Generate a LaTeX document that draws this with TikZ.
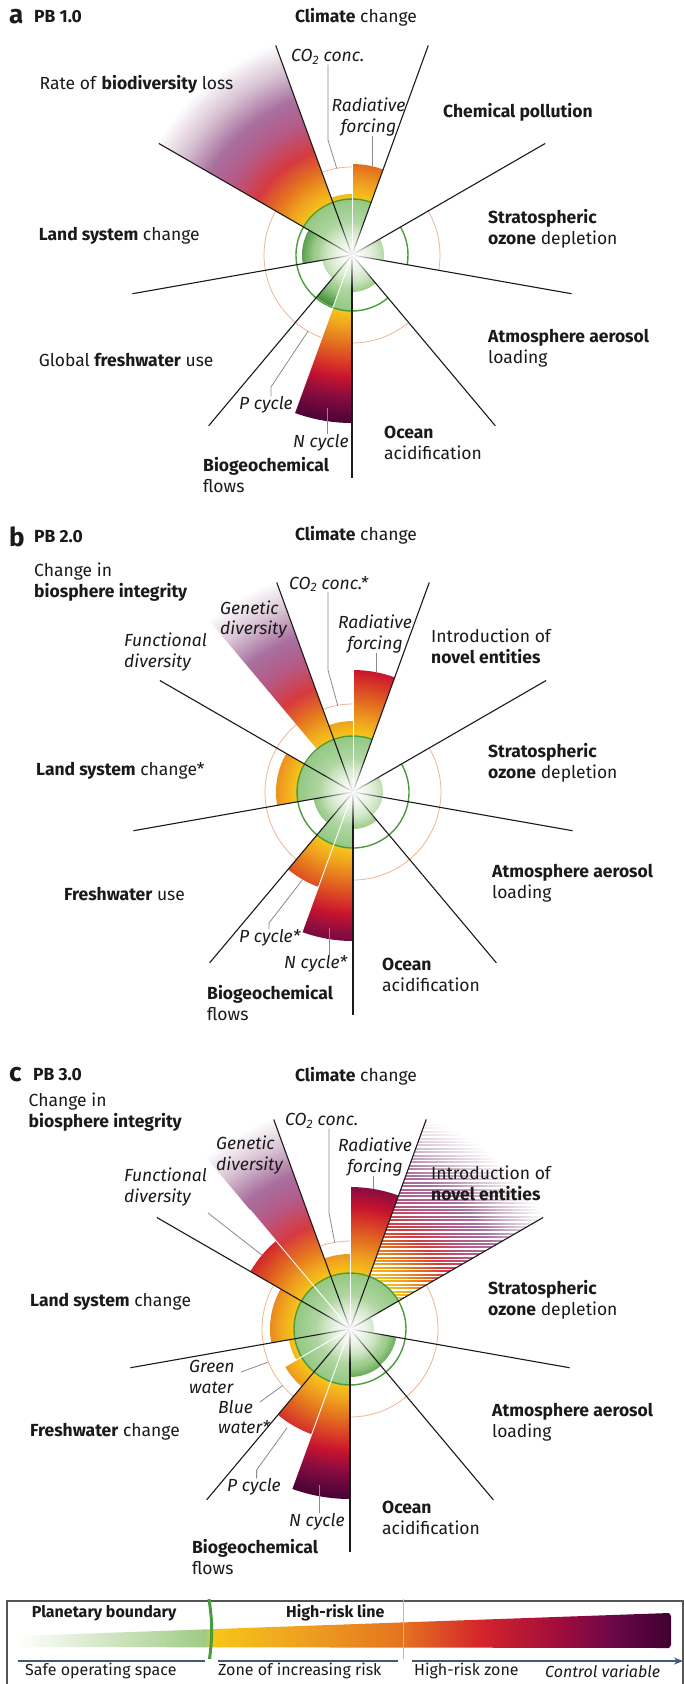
\documentclass[tikz,border=0pt]{standalone}
\usepackage{fontspec}
\setmainfont{Fira Sans}
\usetikzlibrary{fadings,arrows.meta,calc}
\definecolor{ink}{HTML}{1A1A1A}
\definecolor{leadc}{HTML}{8A8A8A}
\definecolor{bndc}{HTML}{4A9A3E}
\definecolor{hrlc}{HTML}{F2B591}
\definecolor{boxc}{HTML}{555555}
\definecolor{axisc}{HTML}{3F5B78}
\definecolor{g0}{HTML}{E2F0DB}
\definecolor{g1}{HTML}{BCDCAE}
\definecolor{g2}{HTML}{93C883}
\definecolor{y1}{HTML}{F6C619}
\definecolor{o0}{HTML}{F0A51F}
\definecolor{o1}{HTML}{E4731F}
\definecolor{r0}{HTML}{D83A28}
\definecolor{r1}{HTML}{C8142E}
\definecolor{m1}{HTML}{8F0C3F}
\definecolor{m2}{HTML}{5C063A}
\definecolor{d1}{HTML}{3F0030}
\definecolor{fr}{HTML}{D63A3F}
\definecolor{fm}{HTML}{B55A88}
\definecolor{fl}{HTML}{A8709F}
\definecolor{fw}{HTML}{D8C2D3}
\definecolor{s0}{HTML}{E4F1DD}
\definecolor{s1}{HTML}{BEDEB0}
\definecolor{s2}{HTML}{9CCC8B}
\definecolor{s3}{HTML}{66A858}
\definecolor{s4}{HTML}{3D8836}
\definecolor{lg1}{HTML}{D5E8C8}
\definecolor{lg2}{HTML}{9FCB85}
\definecolor{lo1}{HTML}{EEA21F}
\definecolor{lo2}{HTML}{E4731F}
\definecolor{lr1}{HTML}{D4252B}
\definecolor{lm1}{HTML}{A00C3C}
\definecolor{lm2}{HTML}{6E0848}
\pgfdeclareradialshading{warm}{\pgfpointorigin}{color(0bp)=(g0); color(2.5bp)=(g1); color(5.55bp)=(g2); color(5.6bp)=(y1); color(7bp)=(o0); color(8.8bp)=(o1); color(10.8bp)=(r0); color(12.2bp)=(r1); color(14bp)=(m1); color(16bp)=(m2); color(17.5bp)=(d1); color(50bp)=(d1)}
\pgfdeclareradialshading{fade}{\pgfpointorigin}{color(0bp)=(g0); color(2.5bp)=(g1); color(5.55bp)=(g2); color(5.6bp)=(y1); color(7bp)=(o0); color(8.8bp)=(o1); color(11bp)=(fr); color(14bp)=(fm); color(16.5bp)=(fl); color(19.5bp)=(fw); color(22.5bp)=(white); color(50bp)=(white)}
\pgfdeclareradialshading{safe}{\pgfpointorigin}{color(0bp)=(s0); color(2.5bp)=(s1); color(3.8bp)=(s2); color(4.8bp)=(s3); color(5.6bp)=(s4); color(50bp)=(s4)}
\pgfdeclarehorizontalshading{legbar}{50bp}{color(0bp)=(white); color(25bp)=(white); color(31.31bp)=(lg1); color(39.35bp)=(lg2); color(39.88bp)=(y1); color(46.61bp)=(lo1); color(54.49bp)=(lo2); color(60.38bp)=(lr1); color(66.5bp)=(lm1); color(70.33bp)=(lm2); color(75bp)=(d1); color(100bp)=(d1)}
\tikzfading[name=glowfade, inner color=transparent!0, outer color=transparent!100]
\newcommand\pbwedge[5]{%
  \begin{scope}
    \clip (#2) -- ++(#3:#5) arc[start angle=#3, end angle=#4, radius=#5] -- cycle;
    \shade[shading=#1] (#2) circle[radius=250];
  \end{scope}}
\newcommand\pbarc[5]{\draw[#1] (#2) ++(#3:#5) arc[start angle=#3, end angle=#4, radius=#5];}
\newcommand\pbstripes[3]{%
  \begin{scope}
    \clip (#1) -- ++(#2:250) arc[start angle=#2, end angle=#3, radius=250] -- cycle;
    \shade[shading=fade] (#1) circle[radius=250];
    \foreach \k in {0,...,75} \draw[white, line width=1.5bp] ($(#1)+(0,1.7+\k*3.4)$) -- ++(260,0);
  \end{scope}}
\begin{document}
\begin{tikzpicture}[x=1bp,y=1bp,
  lab/.style={inner sep=0pt, text=ink, font=\fontsize{17.5bp}{21bp}\selectfont, align=left},
  sublab/.style={inner sep=0pt, text=ink, font=\fontsize{17.5bp}{20.5bp}\selectfont\itshape, align=left},
  letter/.style={inner sep=0pt, text=ink, font=\fontsize{26bp}{26bp}\selectfont\bfseries},
  leg/.style={inner sep=0pt, text=ink, font=\fontsize{16bp}{18bp}\selectfont},
  leader/.style={draw=leadc, line width=0.8bp},
  secline/.style={draw=ink, line width=1.1bp},
  bnd/.style={draw=bndc, line width=1.4bp},
  hrl/.style={draw=hrlc, line width=0.8bp},
  sepw/.style={draw=white, line width=0.9bp},
  axisline/.style={draw=axisc, line width=2.2bp}]
\useasboundingbox (0,0) rectangle (684,-1684);
\fill[white] (0,0) rectangle (684,-1684);

%%%%%%%% Panel a
\coordinate (ca) at (352,-255);
\pbarc{hrl}{ca}{70}{270}{88}\pbarc{hrl}{ca}{-90}{-50}{88}\pbarc{hrl}{ca}{-10}{30}{88}
\pbwedge{fade}{ca}{110}{150}{250}
\pbwedge{warm}{ca}{90}{110}{61}
\pbwedge{warm}{ca}{70}{90}{91}
\pbwedge{safe}{ca}{-10}{30}{32}
\pbwedge{safe}{ca}{-90}{-50}{37}
\pbwedge{warm}{ca}{250}{270}{168}
\pbwedge{safe}{ca}{230}{250}{55}
\pbwedge{safe}{ca}{190}{230}{30}
\pbwedge{safe}{ca}{150}{190}{50}
\pbarc{bnd}{ca}{70}{270}{56}\pbarc{bnd}{ca}{-90}{-50}{56}\pbarc{bnd}{ca}{-10}{30}{56}
\draw[sepw] (ca) -- ++(90:91);
\draw[sepw] (ca) -- ++(250:168);
\foreach \a in {-90,-50,...,230} \draw[secline] (ca) -- ++(\a:223);
\fill[white, path fading=glowfade] (ca) circle[radius=34];

\node[letter, anchor=west] (aL) at (9,-17) {a};
\node[lab, anchor=west] (aT) at (34,-17) {\textbf{PB 1.0}};
\node[lab] (aClim) at (356,-17) {\textbf{Climate} change};
\node[sublab, anchor=west] (aCO) at (291,-57) {CO\textsubscript{2} conc.};
\node[sublab, align=center] (aRF) at (368.5,-117) {Radiative\\forcing};
\node[lab, anchor=west] (aChem) at (443,-112) {\textbf{Chemical pollution}};
\node[lab, anchor=west] (aBio) at (39.5,-84) {Rate of \textbf{biodiversity} loss};
\node[lab, anchor=west] (aLand) at (38.6,-236) {\textbf{Land system} change};
\node[lab, anchor=west] (aOz) at (488,-228.5) {\textbf{Stratospheric}\\\textbf{ozone} depletion};
\node[lab, anchor=west] (aFw) at (38.6,-360) {Global \textbf{freshwater} use};
\node[lab, anchor=west] (aAer) at (488,-348) {\textbf{Atmosphere aerosol}\\loading};
\node[sublab, anchor=west] (aP) at (239,-405) {P cycle};
\node[sublab, anchor=west] (aN) at (293,-443) {N cycle};
\node[lab, anchor=west] (aBgc) at (203,-475) {\textbf{Biogeochemical}\\flows};
\node[lab, anchor=west] (aOc) at (384,-443) {\textbf{Ocean}\\acidification};
\coordinate (aCOk) at (328,-140);
\coordinate (aCOe) at ($(ca)+(100:88)$);
\draw[leader] (aCO.south -| aCOk) -- (aCOk) -- (aCOe);
\coordinate (aRFe) at ($(ca)+(77.3:91)$);
\draw[leader] (aRF.south -| aRFe) -- (aRFe);
\coordinate (aPk) at (271,-387);
\coordinate (aPe) at ($(ca)+(240:88)$);
\draw[leader] (aP.north -| aPk) -- (aPk) -- (aPe);
\coordinate (aNe) at ($(ca)+(261:155)$);
\draw[leader] (aN.north -| aNe) -- (aNe);

%%%%%%%% Panel b
\coordinate (cb) at (353,-792);
\pbarc{hrl}{cb}{70}{390}{88}
\pbwedge{fade}{cb}{110}{130}{250}
\pbwedge{warm}{cb}{130}{150}{55}
\pbwedge{warm}{cb}{90}{110}{71}
\pbwedge{warm}{cb}{70}{90}{122}
\pbwedge{safe}{cb}{-10}{30}{30}
\pbwedge{safe}{cb}{-50}{-10}{30}
\pbwedge{safe}{cb}{-90}{-50}{37}
\pbwedge{warm}{cb}{250}{270}{149}
\pbwedge{warm}{cb}{230}{250}{101}
\pbwedge{safe}{cb}{190}{230}{40}
\pbwedge{warm}{cb}{150}{190}{77}
\pbarc{bnd}{cb}{70}{390}{56}
\draw[sepw] (cb) -- ++(90:122);
\draw[sepw] (cb) -- ++(250:149);
\foreach \a in {-90,-50,...,230} \draw[secline] (cb) -- ++(\a:223);
\fill[white, path fading=glowfade] (cb) circle[radius=34];

\node[letter, anchor=west] (bL) at (9,-537) {b};
\node[lab, anchor=west] (bT) at (34,-537) {\textbf{PB 2.0}};
\node[lab] (bClim) at (356,-535) {\textbf{Climate} change};
\node[lab, anchor=west] (bBio) at (34,-582.5) {Change in\\\textbf{biosphere integrity}};
\node[sublab, anchor=west] (bGen) at (220,-619.5) {Genetic\\diversity};
\node[sublab, anchor=west] (bFun) at (124,-652) {Functional\\diversity};
\node[sublab, anchor=west] (bCO) at (289,-584) {CO\textsubscript{2} conc.*};
\node[sublab, align=center] (bRF) at (375,-634) {Radiative\\forcing};
\node[lab, anchor=west] (bNov) at (431,-646.5) {Introduction of\\\textbf{novel entities}};
\node[lab, anchor=west] (bOz) at (488,-762.5) {\textbf{Stratospheric}\\\textbf{ozone} depletion};
\node[lab, anchor=west] (bLand) at (36,-771) {\textbf{Land system} change*};
\node[lab, anchor=west] (bFw) at (64,-894) {\textbf{Freshwater} use};
\node[lab, anchor=west] (bAer) at (492,-883.5) {\textbf{Atmosphere aerosol}\\loading};
\node[sublab, anchor=west] (bP) at (239,-938) {P cycle*};
\node[sublab, anchor=west] (bN) at (284,-964) {N cycle*};
\node[lab, anchor=west] (bBgc) at (207,-1002.5) {\textbf{Biogeochemical}\\flows};
\node[lab, anchor=west] (bOc) at (382,-974.5) {\textbf{Ocean}\\acidification};
\coordinate (bCOk) at (328,-670);
\coordinate (bCOe) at ($(cb)+(100:88)$);
\draw[leader] (bCO.south -| bCOk) -- (bCOk) -- (bCOe);
\coordinate (bRFe) at ($(cb)+(79:122)$);
\draw[leader] (bRF.south -| bRFe) -- (bRFe);
\coordinate (bPk) at (269,-923);
\coordinate (bPe) at ($(cb)+(240:102)$);
\draw[leader] (bP.north -| bPk) -- (bPk) -- (bPe);
\coordinate (bNe) at ($(cb)+(260:138)$);
\draw[leader] (bN.north -| bNe) -- (bNe);

%%%%%%%% Panel c
\coordinate (cc) at (350,-1329);
\draw[hrl] (cc) circle[radius=88];
\pbwedge{fade}{cc}{110}{130}{250}
\pbwedge{warm}{cc}{130}{150}{115}
\pbwedge{warm}{cc}{90}{110}{75}
\pbwedge{warm}{cc}{70}{90}{142}
\pbstripes{cc}{30}{70}
\pbwedge{warm}{cc}{30}{70}{56}
\pbwedge{safe}{cc}{-10}{30}{24}
\pbwedge{safe}{cc}{-50}{-10}{47}
\pbwedge{safe}{cc}{-90}{-50}{48}
\pbwedge{warm}{cc}{250}{270}{170}
\pbwedge{warm}{cc}{230}{250}{112}
\pbwedge{warm}{cc}{210}{230}{75}
\pbwedge{warm}{cc}{190}{210}{62}
\pbwedge{warm}{cc}{150}{190}{80}
\draw[bnd] (cc) circle[radius=56];
\draw[sepw] (cc) -- ++(90:142);
\draw[sepw] (cc) -- ++(130:155);
\draw[sepw] (cc) -- ++(210:75);
\draw[sepw] (cc) -- ++(250:170);
\foreach \a in {-90,-50,...,230} \draw[secline] (cc) -- ++(\a:223);
\fill[white, path fading=glowfade] (cc) circle[radius=34];

\node[letter, anchor=west] (cL) at (9,-1075) {c};
\node[lab, anchor=west] (cT) at (33,-1075) {\textbf{PB 3.0}};
\node[lab] (cClim) at (356,-1076) {\textbf{Climate} change};
\node[lab, anchor=west] (cBio) at (28.5,-1112.5) {Change in\\\textbf{biosphere integrity}};
\node[sublab, anchor=west] (cCO) at (285,-1121) {CO\textsubscript{2} conc.};
\node[sublab, anchor=west] (cGen) at (216,-1155) {Genetic\\diversity};
\node[sublab, align=center] (cRF) at (375,-1157) {Radiative\\forcing};
\node[sublab, anchor=west] (cFun) at (124,-1187) {Functional\\diversity};
\node[lab, anchor=west] (cNov) at (431,-1183) {Introduction of\\\textbf{novel entities}};
\node[lab, anchor=west] (cOz) at (488,-1300) {\textbf{Stratospheric}\\\textbf{ozone} depletion};
\node[lab, anchor=west] (cLand) at (30,-1302) {\textbf{Land system} change};
\node[sublab, anchor=west] (cGw) at (189,-1377) {Green\\water};
\node[sublab, anchor=west] (cBw) at (218,-1417) {Blue\\water*};
\node[lab, anchor=west] (cFw) at (30,-1432) {\textbf{Freshwater} change};
\node[lab, anchor=west] (cAer) at (492,-1422.5) {\textbf{Atmosphere aerosol}\\loading};
\node[sublab, anchor=west] (cP) at (227,-1487) {P cycle};
\node[sublab, anchor=west] (cN) at (289,-1522) {N cycle};
\node[lab, anchor=west] (cBgc) at (192,-1557) {\textbf{Biogeochemical}\\flows};
\node[lab, anchor=west] (cOc) at (382,-1518) {\textbf{Ocean}\\acidification};
\coordinate (cCOk) at (329,-1213);
\coordinate (cCOe) at ($(cc)+(100:88)$);
\draw[leader] (cCO.south -| cCOk) -- (cCOk) -- (cCOe);
\coordinate (cRFe) at ($(cc)+(80.7:142)$);
\draw[leader] (cRF.south -| cRFe) -- (cRFe);
\coordinate (cFuns) at (208,-1213);
\coordinate (cFune) at ($(cc)+(140:115)$);
\draw[leader] (cFuns) -- (cFune);
\coordinate (cGws) at (241,-1372);
\coordinate (cGwe) at ($(cc)+(202:89)$);
\draw[leader] (cGws) -- (cGwe);
\coordinate (cBws) at (260,-1402);
\coordinate (cBwe) at ($(cc)+(220:88)$);
\draw[leader] (cBws) -- (cBwe);
\coordinate (cPk) at (256.6,-1470);
\coordinate (cPe) at ($(cc)+(237.5:117)$);
\draw[leader] (cP.north -| cPk) -- (cPk) -- (cPe);
\coordinate (cNe) at ($(cc)+(259:159)$);
\draw[leader] (cN.north -| cNe) -- (cNe);

%%%%%%%% Legend
\draw[boxc, line width=1.2bp] (7,-1601) rectangle (683,-1690);
\shade[shading=legbar] (17.5,-1647) -- (17.5,-1636) -- (669,-1613) -- (671,-1616) -- (671,-1645) -- (669,-1648) -- cycle;
\draw[axisline] (17.5,-1661) -- (205,-1661);
\draw[axisline] (218,-1661) -- (398,-1661);
\draw[axisline, -{Stealth[length=9bp, width=7bp]}] (412,-1661) -- (683,-1661);
\draw[bndc, line width=3bp] (209,-1599) to[bend left=8] (209.5,-1659);
\draw[hrlc!80!orange, line width=1bp] (403.5,-1599) -- (403.5,-1659);
\node[leg, anchor=west] (lPB) at (31.6,-1613) {\textbf{Planetary boundary}};
\node[leg, anchor=west] (lHR) at (286,-1613) {\textbf{High-risk line}};
\node[leg, anchor=west] (lSafe) at (25,-1671) {Safe operating space};
\node[leg, anchor=west] (lZone) at (218,-1671) {Zone of increasing risk};
\node[leg, anchor=west] (lHigh) at (414,-1671) {High-risk zone};
\node[leg, anchor=west] (lCV) at (545,-1671) {\itshape Control variable};
\end{tikzpicture}
\end{document}
